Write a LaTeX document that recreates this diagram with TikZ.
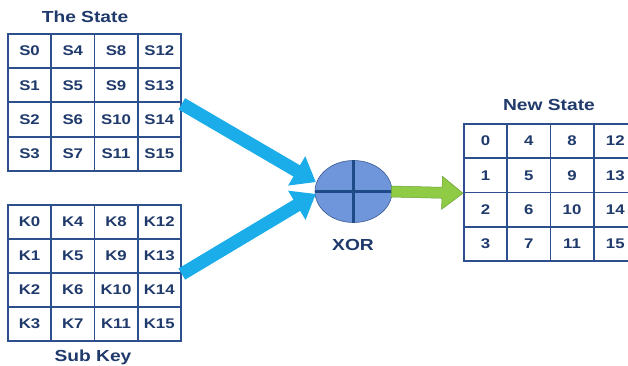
\documentclass[tikz,border=0pt]{standalone}
\usepackage{fontspec}
\setmainfont{Liberation Sans}[FakeStretch=1.2]
\usetikzlibrary{calc,shapes.geometric}
\definecolor{gridblue}{HTML}{2E4F8E}
\definecolor{textnavy}{HTML}{1F3A6B}
\definecolor{flowblue}{HTML}{1AADEA}
\definecolor{xorfill}{HTML}{6F96DA}
\definecolor{xoredge}{HTML}{3A5A93}
\definecolor{crossblue}{HTML}{1F4A88}
\definecolor{flowgreen}{HTML}{8FCB45}
\definecolor{greenedge}{HTML}{6A9E35}
\tikzset{
  cell/.style={draw=gridblue, line width=1.8pt, minimum width=43.25pt,
    minimum height=34.25pt, inner sep=0pt, anchor=north west,
    font=\fontsize{14}{14}\selectfont\bfseries, text=textnavy},
  title/.style={font=\fontsize{16}{16}\selectfont\bfseries, text=textnavy},
  bluearrow/.style={fill=flowblue},
  greenarrow/.style={fill=flowgreen, draw=greenedge, line width=0.5pt},
}
% block arrow: #1 style, #2 tail, #3 tip, #4 half shaft, #5 half head, #6 head length
\newcommand{\blockarrow}[6]{%
  \path[#1] ($(#2)!#4!90:(#3)$)
    -- ($(#3)!#6!(#2)!#4!-90:(#2)$)
    -- ($(#3)!#6!(#2)!#5!-90:(#2)$)
    -- (#3)
    -- ($(#3)!#6!(#2)!#5!90:(#2)$)
    -- ($(#3)!#6!(#2)!#4!90:(#2)$)
    -- ($(#2)!#4!-90:(#3)$) -- cycle;}
\begin{document}
\begin{tikzpicture}[x=1pt,y=-1pt]
\useasboundingbox (0,0) rectangle (628,366);
\clip (0,0) rectangle (628,366);
\fill[white] (0,0) rectangle (628,366);

% the state
\foreach \r in {0,...,3}{
  \foreach \c in {0,...,3}{
    \pgfmathtruncatemacro{\n}{4*\c+\r}
    \node[cell] (S-\r-\c) at ({7+43.25*\c},{33+34.25*\r}) {S\n};
  }
}
\node[title] (stitle) at (85,17) {The State};

% the sub key
\foreach \r in {0,...,3}{
  \foreach \c in {0,...,3}{
    \pgfmathtruncatemacro{\n}{4*\c+\r}
    \node[cell] (K-\r-\c) at ({7+43.25*\c},{204+34*\r}) {K\n};
  }
}
\node[title] (ktitle) at (93,357) {Sub Key};

% the new state
\foreach \r in {0,...,3}{
  \foreach \c in {0,...,3}{
    \pgfmathtruncatemacro{\n}{4*\c+\r}
    \node[cell] (N-\r-\c) at ({463+43.25*\c},{123+34.25*\r}) {\n};
  }
}
\node[title] (ntitle) at (549,105) {New State};

% XOR operator
\node[ellipse, draw=xoredge, line width=0.6pt, fill=xorfill,
  minimum width=77pt, minimum height=62pt, inner sep=0pt] (xor) at (353.5,191.5) {};
\draw[crossblue, line width=3pt] (xor.north) -- (xor.south);
\draw[crossblue, line width=3pt] (xor.west) -- (xor.east);
\node[title] (xlabel) at (353,245) {XOR};

% flows into and out of the XOR
\coordinate (tailS) at ($(S-1-3.south east)+(0,0.5)$);
\coordinate (tipS) at ($(xor.west)+(1,-9.5)$);
\coordinate (tailK) at (K-1-3.south east);
\coordinate (tipK) at ($(xor.west)+(1,2.5)$);
\coordinate (tailN) at ($(xor.east)+(-1,0)$);
\coordinate (tipN) at (N-1-0.south west);
\blockarrow{bluearrow}{tailS}{tipS}{6.5pt}{17pt}{22pt}
\blockarrow{bluearrow}{tailK}{tipK}{6.5pt}{17pt}{22pt}
\blockarrow{greenarrow}{tailN}{tipN}{5.5pt}{16.5pt}{21pt}
\end{tikzpicture}
\end{document}
